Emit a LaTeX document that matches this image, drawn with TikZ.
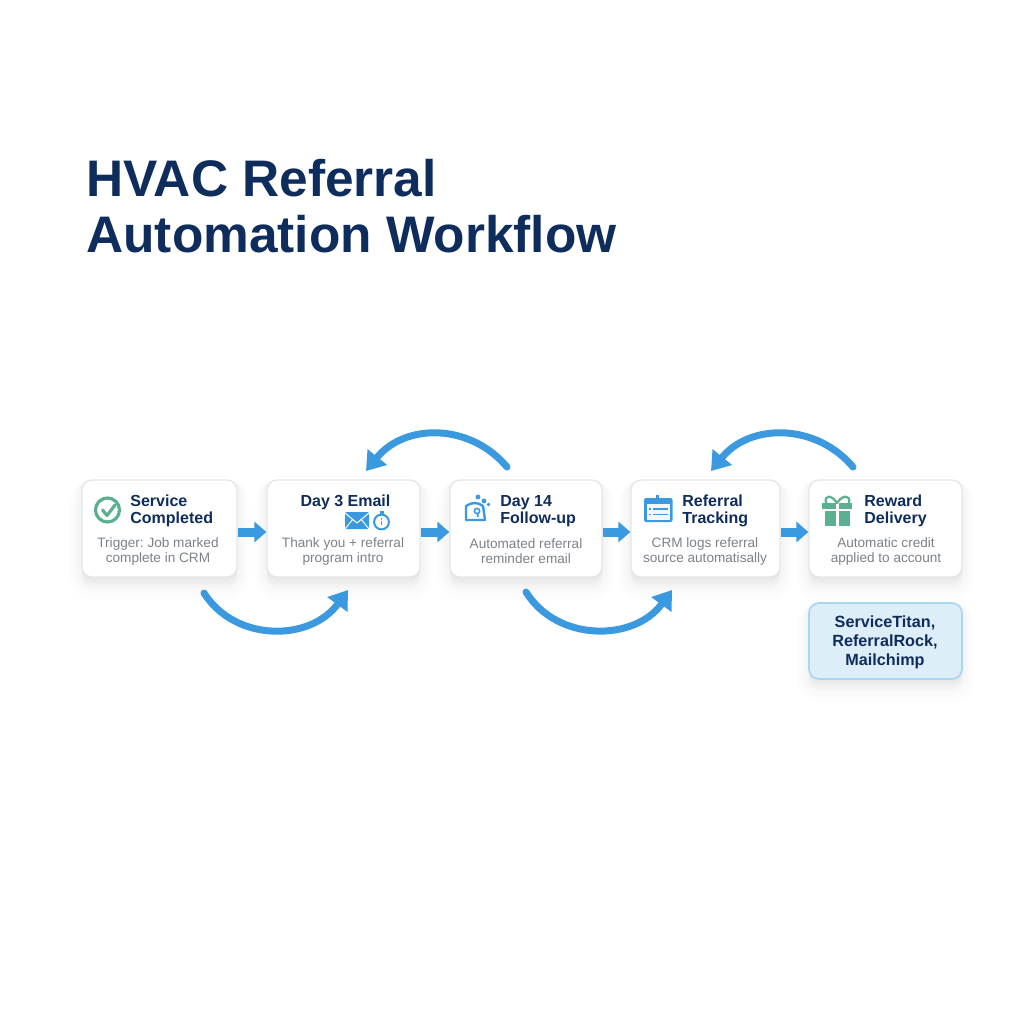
\documentclass[tikz,border=0pt]{standalone}
\usepackage{xcolor}
\usepackage{fontspec}
\setmainfont{Liberation Sans}
\frenchspacing
\usetikzlibrary{
		arrows.meta
	}
\definecolor{navy}{HTML}{0F2D5C}
\definecolor{subgray}{HTML}{7C8288}
\definecolor{flowblue}{HTML}{3B9ADF}
\definecolor{mint}{HTML}{5BB08F}
\definecolor{cardline}{HTML}{E2E5E9}
\definecolor{toolfill}{HTML}{DDEEF9}
\definecolor{toolline}{HTML}{A6D7F1}
\tikzset{
		x=0.5pt, y=-0.5pt,
		softlayer/.style={preaction={fill=black, draw=black, line join=round, line width=#1*2pt, opacity=0.004, transform canvas={yshift=-#1*1pt}}},
		softshadow/.style={softlayer=6, softlayer=5.5, softlayer=5, softlayer=4.5, softlayer=4, softlayer=3.5, softlayer=3, softlayer=2.5, softlayer=2, softlayer=1.5, softlayer=1, softlayer=0.5},
		card/.style={draw=cardline, line width=0.6pt, fill=white, rounded corners=5pt, minimum height=48.5pt, softshadow},
		toolcard/.style={card, draw=toolline, line width=0.8pt, fill=toolfill, minimum height=38pt},
		head/.style={text=navy, font=\bfseries\fontsize{8}{8.5}\selectfont, align=left, inner sep=0pt},
		sub/.style={text=subgray, font=\fontsize{6.8}{7.5}\selectfont, align=center, inner sep=0pt},
		flowarrow/.style={draw=flowblue, line width=4.5pt, -{Triangle[length=6pt, width=10pt]}},
		looparrow/.style={draw=flowblue, line width=3.5pt, line cap=round, -{Triangle[length=9pt, width=12pt]}}
	}

\begin{document}
\begin{tikzpicture}
        \useasboundingbox (0,0) rectangle (1024,1024);

        % the title
        \node[name=title, anchor=west, text=navy, align=left, inner sep=0pt, font=\bfseries\fontsize{25.7}{28}\selectfont] at (86,206) {HVAC Referral\\Automation Workflow};

        % the cards
        \node[card, minimum width=77.5pt] (service) at (159.5,528.5) {};
        \node[card, minimum width=76.5pt] (email) at (343.5,528.5) {};
        \node[card, minimum width=76pt] (followup) at (526,528.5) {};
        \node[card, minimum width=74.5pt] (tracking) at (705.5,528.5) {};
        \node[card, minimum width=76.5pt] (reward) at (885.5,528.5) {};
        \node[toolcard, minimum width=76.5pt] (tools) at (885.5,641) {};

        % the texts
        \node[head, anchor=west] (servicehead) at (130,511) {Service\\Completed};
        \node[head] (emailhead) at (345.5,502) {Day 3 Email};
        \node[head, anchor=west] (followuphead) at (500,511) {Day 14\\Follow-up};
        \node[head, anchor=west] (trackinghead) at (682,511) {Referral\\Tracking};
        \node[head, anchor=west] (rewardhead) at (864,511) {Reward\\Delivery};

        \node[sub] (servicesub) at (158,551) {Trigger: Job marked\\complete in CRM};
        \node[sub] (emailsub) at (343,551) {Thank you + referral\\program intro};
        \node[sub] (followupsub) at (526,551) {Automated referral\\reminder email};
        \node[sub] (trackingsub) at (705,551) {CRM logs referral\\source automatisally};
        \node[sub] (rewardsub) at (886,551) {Automatic credit\\applied to account};

        \node[head, align=center, font=\bfseries\fontsize{8.1}{9.5}\selectfont] (toolstext) at (885,642) {ServiceTitan,\\ReferralRock,\\Mailchimp};

        % the icons
        \draw[mint, line width=1.6pt] (107.5,510) circle (6pt);
        \draw[mint, line width=1.6pt, line cap=round, line join=round] (102.5,510) -- (107,515.5) -- (115,505);

        \fill[flowblue, rounded corners=0.6pt] (345,512) rectangle (369,529);
        \draw[white, line width=0.5pt] (345,513) -- (357,523) -- (369,513) (345,529) -- (353,519) (369,529) -- (361,519);
        \draw[flowblue, line width=1pt] (381.5,522) circle (3.7pt);
        \fill[flowblue] (379.5,510.5) rectangle (383.5,513.5);
        \draw[flowblue, line width=0.9pt] (381.5,517.5) -- (381.5,525);
        \fill[white] (381.5,520.5) circle (0.4pt);

        \draw[flowblue, line width=1.2pt, line join=round] (466,506) .. controls (472,502) and (478,502) .. (483,506) -- (485,520) -- (466,520) -- cycle;
        \draw[flowblue, line width=0.8pt] (477,511) circle (1.3pt) (477.5,513) -- (478,517);
        \fill[flowblue] (478,497) circle (1.2pt) (484,501) circle (1.2pt) (488.5,504.5) circle (0.9pt);

        \fill[flowblue, rounded corners=1pt] (644,498) rectangle (672.5,522);
        \fill[flowblue] (655.5,495) rectangle (658.5,500);
        \fill[blue!4!white] (646.5,504) rectangle (670,519.5);
        \draw[flowblue, line width=0.9pt] (648.5,509) -- (651,509) (653,509) -- (668,509) (648.5,514.5) -- (651,514.5) (653,514.5) -- (668,514.5);

        \fill[mint] (822,503) rectangle (852,509);
        \fill[mint] (825,511) rectangle (850,526);
        \fill[white] (836,503) rectangle (838.5,526);
        \draw[mint, line width=1.1pt, line join=round, line cap=round] (837,503) .. controls (832,495) and (824,494) .. (826,503) (837,503) .. controls (842,495) and (851,494) .. (849,503);

        % draw the arrows
        \draw[flowarrow] ([yshift=-1.75pt]service.east) -- ([yshift=-1.75pt]email.west);
        \draw[flowarrow] ([yshift=-1.75pt]email.east) -- ([yshift=-1.75pt]followup.west);
        \draw[flowarrow] ([yshift=-1.75pt]followup.east) -- ([yshift=-1.75pt]tracking.west);
        \draw[flowarrow] ([yshift=-1.75pt]tracking.east) -- ([yshift=-1.75pt]reward.west);

        % the points where the bent arrows start and stop
        \coordinate (lowAstart) at (204,593);
        \coordinate (lowAend) at (348,590);
        \coordinate (upAstart) at (507,467);
        \coordinate (upAend) at (366,471);
        \coordinate (lowBstart) at (526,592);
        \coordinate (lowBend) at (672,590);
        \coordinate (upBstart) at (853,467);
        \coordinate (upBend) at (711,471);

        \draw[looparrow] (lowAstart) .. controls (235,642) and (310,642) .. (lowAend);
        \draw[looparrow] (upAstart) .. controls (470,423) and (405,423) .. (upAend);
        \draw[looparrow] (lowBstart) .. controls (557,642) and (634,642) .. (lowBend);
        \draw[looparrow] (upBstart) .. controls (816,423) and (750,423) .. (upBend);
    \end{tikzpicture}
\end{document}
